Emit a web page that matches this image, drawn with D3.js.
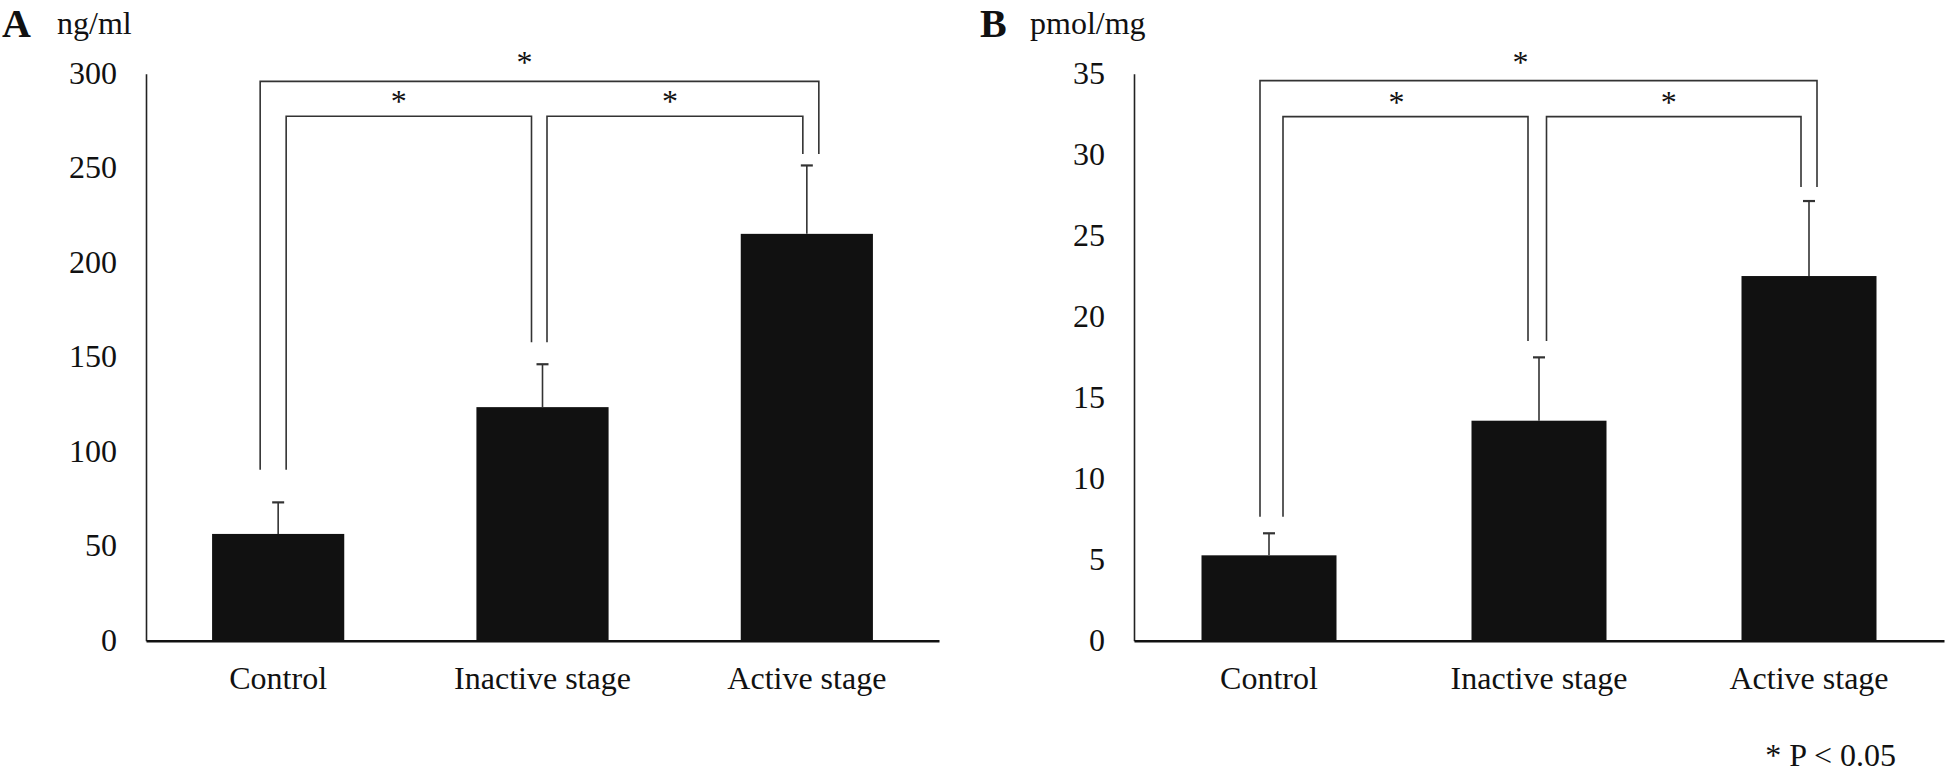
<!DOCTYPE html>
<html><head><meta charset="utf-8">
<script src="https://cdn.jsdelivr.net/npm/d3@7"></script>
<style>
body{margin:0;background:#fff}
svg{display:block}
text{font-family:"Liberation Serif","Times New Roman",serif;fill:#111}
</style>
</head><body>
<svg id="chart" width="1946" height="775"></svg>
<script>
// ---- data ----
const categories = ["Control", "Inactive stage", "Active stage"];
const valuesA = [56.5, 123.6, 215.3];
const errorsA = [16.7, 22.7, 36.2];
const valuesB = [5.27, 13.58, 22.51];
const errorsB = [1.36, 3.91, 4.63];
const ticksA = [0, 50, 100, 150, 200, 250, 300];
const ticksB = [0, 5, 10, 15, 20, 25, 30, 35];
const unitA = "ng/ml";
const unitB = "pmol/mg";
const bracketPairs = [[0, 2], [0, 1], [1, 2]];
const bracketLevelsA = [296, 277.5, 277.5];
const bracketLevelsB = [34.57, 32.35, 32.35];
const legEndsA = [90.5, 158, 257.5];
const legEndsB = [7.65, 18.5, 28.0];
const sigLabels = ["*", "*", "*"];
const footnote = "* P < 0.05";

// ---- layout ----
const svg = d3.select("#chart");
const FS = 32;
const yBase = 640.7;

function panel(cfg) {
  const g = svg.append("g");
  const x = d3.scaleBand().domain(categories).range([cfg.x0, cfg.x1])
    .paddingInner(0.5).paddingOuter(0.25);
  const y = d3.scaleLinear().domain([0, cfg.yMax]).range([yBase, cfg.yTop]);

  // y axis
  const ya = g.append("g").attr("transform", `translate(${cfg.x0},0)`)
    .call(d3.axisLeft(y).tickValues(cfg.ticks).tickSize(0).tickSizeOuter(0).tickPadding(29));
  ya.select(".domain").attr("stroke", "#222").attr("stroke-width", 1.6);
  ya.selectAll("text").attr("font-size", FS).attr("font-family", "Liberation Serif").attr("fill", "#111").attr("dy", "0.3em");

  // bars
  g.selectAll("rect.bar").data(cfg.values).enter().append("rect")
    .attr("x", (d, i) => x(categories[i]))
    .attr("width", x.bandwidth())
    .attr("y", d => y(d))
    .attr("height", d => y(0) - y(d))
    .attr("fill", "#111");

  // error bars
  const cx = i => x(categories[i]) + x.bandwidth() / 2;
  cfg.values.forEach((v, i) => {
    const top = y(v + cfg.errors[i]);
    g.append("line").attr("x1", cx(i)).attr("x2", cx(i)).attr("y1", y(v)).attr("y2", top)
      .attr("stroke", "#333").attr("stroke-width", 1.6);
    g.append("line").attr("x1", cx(i) - 6).attr("x2", cx(i) + 6).attr("y1", top).attr("y2", top)
      .attr("stroke", "#333").attr("stroke-width", 2.2);
  });

  // x axis
  const xa = g.append("g").attr("transform", `translate(0,${yBase})`)
    .call(d3.axisBottom(x).tickSize(0).tickSizeOuter(0).tickPadding(25.5));
  xa.select(".domain").attr("stroke", "#111").attr("stroke-width", 2.6);
  xa.selectAll("text").attr("font-size", FS).attr("font-family", "Liberation Serif").attr("fill", "#111");

  // significance brackets
  bracketPairs.forEach((p, k) => {
    const xl = cx(p[0]) + cfg.offsets[k][0];
    const xr = cx(p[1]) + cfg.offsets[k][1];
    const yl = y(cfg.levels[k]);
    g.append("path")
      .attr("d", `M${xl},${y(cfg.legEnds[p[0]])}V${yl}H${xr}V${y(cfg.legEnds[p[1]])}`)
      .attr("fill", "none").attr("stroke", "#333").attr("stroke-width", 1.6);
    g.append("text").text(sigLabels[k])
      .attr("x", (xl + xr) / 2 + cfg.starDx[k])
      .attr("y", yl - cfg.starGap[k])
      .attr("text-anchor", "middle").attr("font-size", FS);
  });

  // panel letter and unit
  g.append("text").text(cfg.letter).attr("x", cfg.letterX).attr("y", 37)
    .attr("font-size", 40).attr("font-weight", "bold");
  g.append("text").text(cfg.unit).attr("x", cfg.unitX).attr("y", 34)
    .attr("font-size", FS);
}

panel({
  x0: 146, x1: 939, yMax: 300, yTop: 73.8, ticks: ticksA,
  values: valuesA, errors: errorsA, levels: bracketLevelsA, legEnds: legEndsA,
  offsets: [[-18, 12], [8, -11], [4.5, -4]], starDx: [-15, -10, -5], starGap: [8, 4, 4],
  letter: "A", letterX: 2, unit: unitA, unitX: 57
});
panel({
  x0: 1134, x1: 1944, yMax: 35, yTop: 73.7, ticks: ticksB,
  values: valuesB, errors: errorsB, levels: bracketLevelsB, legEnds: legEndsB,
  offsets: [[-9, 8], [14, -11], [7.5, -8]], starDx: [-18, -9, -5], starGap: [8, 4, 4],
  letter: "B", letterX: 980, unit: unitB, unitX: 1030
});

svg.append("text").text(footnote).attr("x", 1896).attr("y", 766)
  .attr("text-anchor", "end").attr("font-size", FS);
</script>
</body></html>
